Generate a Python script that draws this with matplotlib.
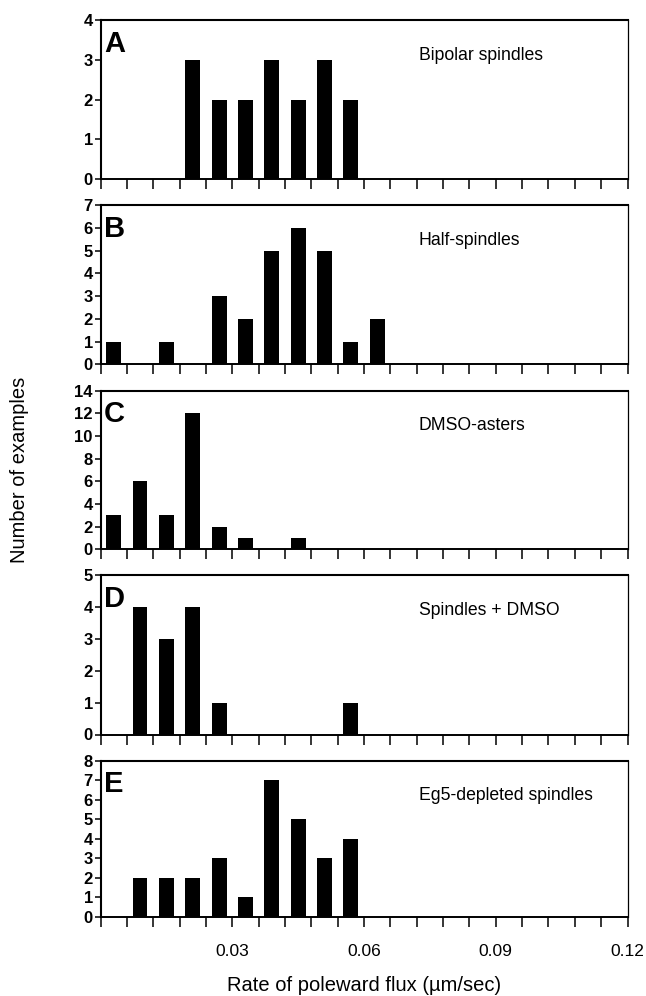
import matplotlib
matplotlib.use("Agg")
import matplotlib.pyplot as plt
import numpy as np

plt.rcParams['font.family'] = ['Liberation Sans', 'DejaVu Sans']

# Data
bin_centers = [0.003, 0.009, 0.015, 0.021, 0.027, 0.033, 0.039, 0.045, 0.051, 0.057, 0.063]
counts_A = [0, 0, 0, 3, 2, 2, 3, 2, 3, 2, 0]
counts_B = [1, 0, 1, 0, 3, 2, 5, 6, 5, 1, 2]
counts_C = [3, 6, 3, 12, 2, 1, 0, 1, 0, 0, 0]
counts_D = [0, 4, 3, 4, 1, 0, 0, 0, 0, 1, 0]
counts_E = [0, 2, 2, 2, 3, 1, 7, 5, 3, 4, 0]

panel_letters = ["A", "B", "C", "D", "E"]
panel_titles = ["Bipolar spindles", "Half-spindles", "DMSO-asters",
                "Spindles + DMSO", "Eg5-depleted spindles"]
y_max = [4, 7, 14, 5, 8]
y_step = [1, 1, 2, 1, 1]
x_tick_labels = ["0.03", "0.06", "0.09", "0.12"]
x_label_vals = [0.03, 0.06, 0.09, 0.12]
all_counts = [counts_A, counts_B, counts_C, counts_D, counts_E]

W, H = 646, 996
fig = plt.figure(figsize=(W / 100, H / 100), dpi=100)

# pixel boxes (top, bottom)
boxes = [(20, 179.3), (205, 364.5), (390.7, 549.3), (575, 734.5), (761, 916.7)]
left_px, right_px = 100.5, 627.5

axes = []
for i, (top, bot) in enumerate(boxes):
    ax = fig.add_axes([left_px / W, 1 - bot / H, (right_px - left_px) / W, (bot - top) / H])
    ax.bar(bin_centers, all_counts[i], width=0.0034, color='black', align='center', zorder=3)
    ax.set_xlim(0, 0.12)
    ax.set_ylim(0, y_max[i])
    ax.set_yticks(np.arange(0, y_max[i] + 1, y_step[i]))
    ax.set_xticks(np.arange(0, 0.1201, 0.006))
    ax.set_xticklabels([])
    for lab, s in zip(['top', 'left', 'bottom'], [1.5, 1.5, 1.4]):
        ax.spines[lab].set_linewidth(s)
    ax.spines['right'].set_linewidth(0.9)
    ax.tick_params(axis='x', direction='out', length=7, width=1.1)
    ax.tick_params(axis='y', direction='out', length=4, width=1.1, pad=1.5,
                   labelsize=12)
    for t in ax.get_yticklabels():
        t.set_fontweight('bold')
    ax.text(0.007, 0.94, panel_letters[i], transform=ax.transAxes,
            fontsize=21, fontweight='heavy', va='top', ha='left')
    ax.text(0.0725, 0.78, panel_titles[i], transform=ax.get_xaxis_transform(),
            fontsize=12.7, va='center', ha='left')
    axes.append(ax)

# bottom axis labels
axE = axes[-1]
labels = []
for v in np.arange(0, 0.1201, 0.006):
    lab = ""
    for lv, lt in zip(x_label_vals, x_tick_labels):
        if abs(v - lv) < 1e-9:
            lab = lt
    labels.append(lab)
axE.set_xticklabels(labels)
axE.tick_params(axis='x', labelsize=12.5, pad=13)
axE.set_xlabel("Rate of poleward flux (µm/sec)", fontsize=14.5, labelpad=12)

fig.text(20 / W, 1 - 470 / H, "Number of examples", rotation=90,
         fontsize=14.5, va='center', ha='center')

fig.savefig("out.png", dpi=100)
